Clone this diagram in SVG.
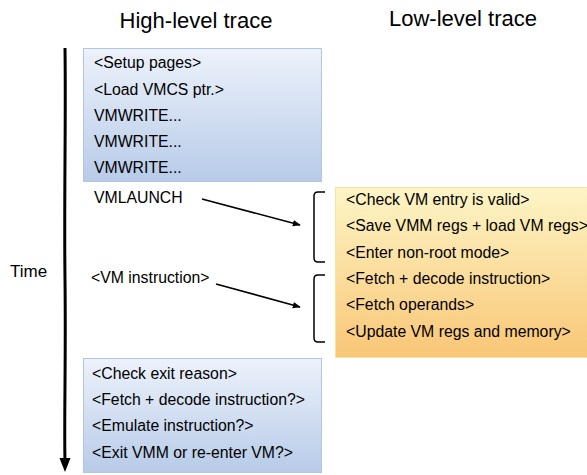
<svg xmlns="http://www.w3.org/2000/svg" width="587" height="475" viewBox="0 0 587 475">
<defs>
<linearGradient id="blue" x1="0" y1="0" x2="0" y2="1">
<stop offset="0" stop-color="#edf2fb"/>
<stop offset="1" stop-color="#b7cbe8"/>
</linearGradient>
<linearGradient id="orange" x1="0" y1="0" x2="0" y2="1">
<stop offset="0" stop-color="#fdf5c6"/>
<stop offset="1" stop-color="#f9c676"/>
</linearGradient>
<marker id="ah" viewBox="0 0 10 10" refX="9" refY="5" markerWidth="8" markerHeight="8" orient="auto" markerUnits="userSpaceOnUse">
<path d="M0,1 L10,5 L0,9 z" fill="#000"/>
</marker>
</defs>
<style>
text{font-family:"Liberation Sans",Arial,sans-serif;font-size:15.8px;fill:#000}
.title{font-size:22px}
.time{font-size:17px}
.box-b{fill:url(#blue);stroke:#b0c6e4;stroke-width:1}
.box-o{fill:url(#orange);stroke:#f3e4a6;stroke-width:1}
.br{fill:none;stroke:#000;stroke-width:1.5}
.arr{fill:none;stroke:#000;stroke-width:1.6}
</style>
<text class="title" x="196" y="28" text-anchor="middle">High-level trace</text>
<text class="title" x="463" y="26" text-anchor="middle">Low-level trace</text>
<g id="time">
<path d="M65,48 C66,120 64,200 65,280 C66,360 64,420 65,462" fill="none" stroke="#000" stroke-width="3"/>
<path d="M59.5,458 L70.5,458 L65,472 z" fill="#000"/>
<text class="time" x="10" y="277">Time</text>
</g>
<g id="setup">
<rect class="box-b" x="83.5" y="48.5" width="238" height="133"/>
<text x="94" y="68">&lt;Setup pages&gt;</text>
<text x="94" y="95">&lt;Load VMCS ptr.&gt;</text>
<text x="94" y="121">VMWRITE...</text>
<text x="94" y="147">VMWRITE...</text>
<text x="94" y="173">VMWRITE...</text>
</g>
<g id="vmlaunch">
<text x="94" y="203">VMLAUNCH</text>
</g>
<g id="vminstr">
<text x="91" y="283">&lt;VM instruction&gt;</text>
</g>
<g id="lowlevel">
<rect class="box-o" x="335.5" y="187.5" width="252" height="170"/>
<text x="346" y="205">&lt;Check VM entry is valid&gt;</text>
<text x="346" y="231">&lt;Save VMM regs + load VM regs&gt;</text>
<text x="346" y="258">&lt;Enter non-root mode&gt;</text>
<text x="346" y="284">&lt;Fetch + decode instruction&gt;</text>
<text x="346" y="310">&lt;Fetch operands&gt;</text>
<text x="346" y="337">&lt;Update VM regs and memory&gt;</text>
</g>
<g id="exit">
<rect class="box-b" x="83.5" y="358.5" width="238" height="114"/>
<text x="92" y="379">&lt;Check exit reason&gt;</text>
<text x="92" y="405">&lt;Fetch + decode instruction?&gt;</text>
<text x="92" y="431">&lt;Emulate instruction?&gt;</text>
<text x="92" y="458">&lt;Exit VMM or re-enter VM?&gt;</text>
</g>
<g id="connectors">
<path class="br" d="M325,192 L318,192 Q314,192 314,196 L314,258 Q314,262 318,262 L325,262"/>
<path class="br" d="M325,275 L318,275 Q314,275 314,279 L314,338 Q314,342 318,342 L325,342"/>
<path class="arr" d="M202,199 L300,225" marker-end="url(#ah)"/>
<path class="arr" d="M216,284 L300,307" marker-end="url(#ah)"/>
</g>
</svg>
